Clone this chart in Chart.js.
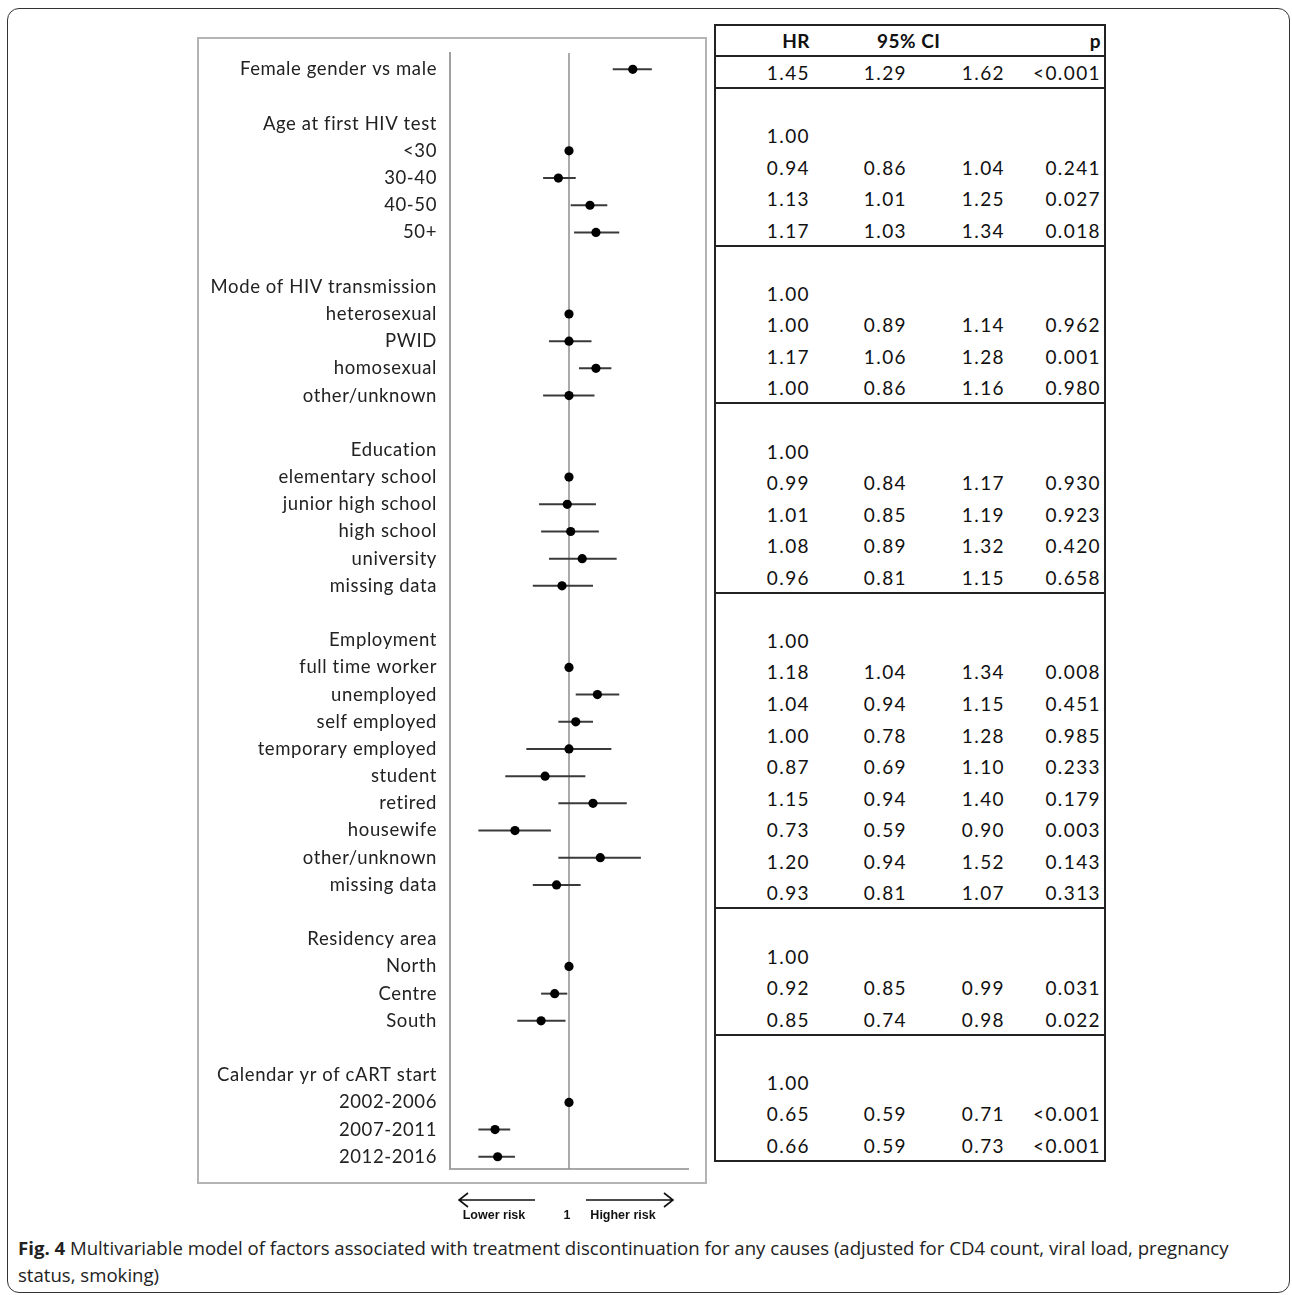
<!DOCTYPE html>
<html>
<head>
<meta charset="utf-8">
<title>Forest plot</title>
<script src="https://cdn.jsdelivr.net/npm/chart.js@4.4.1/dist/chart.umd.min.js"></script>
<style>
  html, body { margin: 0; padding: 0; background: #fff; }
  body { width: 1292px; height: 1295px; position: relative; overflow: hidden; font-family: Lato, sans-serif; color: #111; }
  #frame { position: absolute; left: 7px; top: 8px; width: 1283px; height: 1285px; border: 1.5px solid #333; border-radius: 12px; box-sizing: border-box; }
  #plotBox { position: absolute; left: 197px; top: 37px; width: 510px; height: 1147px; border: 2px solid #b4b4b4; box-sizing: border-box; }
  #chartWrap { position: absolute; left: 197px; top: 37px; width: 510px; height: 1192px; }
  #table { position: absolute; left: 714px; top: 24px; width: 392px; height: 1138px; border: 2px solid #222; box-sizing: border-box; }
  .row { position: absolute; left: 0; width: 388px; height: 31.56px; display: flex; align-items: center; font-size: 19px; letter-spacing: 1.4px; }
  .cell { text-align: right; white-space: nowrap; }
  .head { font-weight: bold; letter-spacing: 0.5px; }
  .sep { position: absolute; left: 0; width: 388px; height: 2px; background: #222; }
  #caption { position: absolute; left: 18px; top: 1234px; width: 1255px; font-family: "Open Sans", sans-serif; font-size: 18.6px; line-height: 27px; color: #222; }
  #caption b { font-weight: bold; }
</style>
</head>
<body>
<div id="frame"></div>
<div id="plotBox"></div>
<div id="chartWrap"><canvas id="forest"></canvas></div>
<div id="table"></div>
<div id="caption"><b>Fig. 4</b> Multivariable model of factors associated with treatment discontinuation for any causes (adjusted for CD4 count, viral load, pregnancy status, smoking)</div>

<script>
// plot rows, top to bottom ('' = spacer row)
const rowLabels = [
  'Female gender vs male', '',
  'Age at first HIV test', '<30', '30-40', '40-50', '50+', '',
  'Mode of HIV transmission', 'heterosexual', 'PWID', 'homosexual', 'other/unknown', '',
  'Education', 'elementary school', 'junior high school', 'high school', 'university', 'missing data', '',
  'Employment', 'full time worker', 'unemployed', 'self employed', 'temporary employed', 'student',
  'retired', 'housewife', 'other/unknown', 'missing data', '',
  'Residency area', 'North', 'Centre', 'South', '',
  'Calendar yr of cART start', '2002-2006', '2007-2011', '2012-2016'
];
const hazardRatio = [
  1.45, null,
  null, 1.00, 0.94, 1.13, 1.17, null,
  null, 1.00, 1.00, 1.17, 1.00, null,
  null, 1.00, 0.99, 1.01, 1.08, 0.96, null,
  null, 1.00, 1.18, 1.04, 1.00, 0.87, 1.15, 0.73, 1.20, 0.93, null,
  null, 1.00, 0.92, 0.85, null,
  null, 1.00, 0.65, 0.66
];
const ciLower = [
  1.29, null,
  null, null, 0.86, 1.01, 1.03, null,
  null, null, 0.89, 1.06, 0.86, null,
  null, null, 0.84, 0.85, 0.89, 0.81, null,
  null, null, 1.04, 0.94, 0.78, 0.69, 0.94, 0.59, 0.94, 0.81, null,
  null, null, 0.85, 0.74, null,
  null, null, 0.59, 0.59
];
const ciUpper = [
  1.62, null,
  null, null, 1.04, 1.25, 1.34, null,
  null, null, 1.14, 1.28, 1.16, null,
  null, null, 1.17, 1.19, 1.32, 1.15, null,
  null, null, 1.34, 1.15, 1.28, 1.10, 1.40, 0.90, 1.52, 1.07, null,
  null, null, 0.99, 0.98, null,
  null, null, 0.71, 0.73
];

// table on the right (rows under the header)
const tableHeader = ['HR', '95% CI', '', 'p'];
const tableHR = ['1.45', '', '1.00', '0.94', '1.13', '1.17', '', '1.00', '1.00', '1.17', '1.00', '',
  '1.00', '0.99', '1.01', '1.08', '0.96', '', '1.00', '1.18', '1.04', '1.00', '0.87', '1.15', '0.73',
  '1.20', '0.93', '', '1.00', '0.92', '0.85', '', '1.00', '0.65', '0.66'];
const tableLow = ['1.29', '', '', '0.86', '1.01', '1.03', '', '', '0.89', '1.06', '0.86', '',
  '', '0.84', '0.85', '0.89', '0.81', '', '', '1.04', '0.94', '0.78', '0.69', '0.94', '0.59',
  '0.94', '0.81', '', '', '0.85', '0.74', '', '', '0.59', '0.59'];
const tableHigh = ['1.62', '', '', '1.04', '1.25', '1.34', '', '', '1.14', '1.28', '1.16', '',
  '', '1.17', '1.19', '1.32', '1.15', '', '', '1.34', '1.15', '1.28', '1.10', '1.40', '0.90',
  '1.52', '1.07', '', '', '0.99', '0.98', '', '', '0.71', '0.73'];
const tableP = ['<0.001', '', '', '0.241', '0.027', '0.018', '', '', '0.962', '0.001', '0.980', '',
  '', '0.930', '0.923', '0.420', '0.658', '', '', '0.008', '0.451', '0.985', '0.233', '0.179', '0.003',
  '0.143', '0.313', '', '', '0.031', '0.022', '', '', '<0.001', '<0.001'];
const tableBreaks = [0, 1, 6, 11, 17, 27, 31];

const xMin = 0.5, xMax = 2;
const yMin = -0.6, yMax = rowLabels.length - 0.55;

// ---- table ----
(function buildTable() {
  const table = document.getElementById('table');
  const rowH = 31.56;
  const widths = [94, 97, 98, 96];
  function addRow(i, cells, isHead) {
    const row = document.createElement('div');
    row.className = 'row' + (isHead ? ' head' : '');
    row.style.top = (i * rowH - 1) + 'px';
    cells.forEach((txt, c) => {
      const cell = document.createElement('div');
      cell.className = 'cell';
      cell.style.width = widths[c] + 'px';
      cell.textContent = txt;
      if (isHead && c === 1) { cell.style.textAlign = 'left'; cell.style.paddingLeft = '67px'; cell.style.boxSizing = 'border-box'; cell.style.overflow = 'visible'; }
      row.appendChild(cell);
    });
    table.appendChild(row);
  }
  addRow(0, tableHeader, true);
  tableHR.forEach((v, k) => addRow(k + 1, [v, tableLow[k], tableHigh[k], tableP[k]], false));
  tableBreaks.forEach(k => {
    const s = document.createElement('div');
    s.className = 'sep';
    s.style.top = (29.3 + k * rowH) + 'px';
    table.appendChild(s);
  });
})();

// ---- forest plot ----
const pointData = [];
hazardRatio.forEach((v, i) => { if (v !== null) pointData.push({ x: v, y: i }); });

const ciSets = [];
ciLower.forEach((lo, i) => {
  if (lo === null) return;
  ciSets.push({
    type: 'line',
    data: [{ x: lo, y: i }, { x: ciUpper[i], y: i }],
    borderColor: '#3a3a3a',
    borderWidth: 2,
    pointRadius: 0,
    order: 1
  });
});

const textSpacing = {
  id: 'textSpacing',
  beforeDraw(chart) { chart.ctx.letterSpacing = '0.6px'; }
};

const riskArrows = {
  id: 'riskArrows',
  afterDraw(chart) {
    const ctx = chart.ctx;
    const x1 = chart.scales.x.getPixelForValue(1);
    const yA = chart.chartArea.bottom + 31;
    const yT = chart.chartArea.bottom + 47;
    ctx.save();
    ctx.letterSpacing = '0px';
    ctx.strokeStyle = '#111';
    ctx.lineWidth = 1.6;
    ctx.beginPath();
    ctx.moveTo(x1 - 34, yA); ctx.lineTo(x1 - 110, yA);
    ctx.moveTo(x1 - 101, yA - 7); ctx.lineTo(x1 - 110, yA); ctx.lineTo(x1 - 101, yA + 7);
    ctx.moveTo(x1 + 17, yA); ctx.lineTo(x1 + 104, yA);
    ctx.moveTo(x1 + 95, yA - 7); ctx.lineTo(x1 + 104, yA); ctx.lineTo(x1 + 95, yA + 7);
    ctx.stroke();
    ctx.fillStyle = '#111';
    ctx.font = 'bold 12.5px "Liberation Sans Narrow", "Liberation Sans", sans-serif';
    ctx.textBaseline = 'middle';
    ctx.textAlign = 'center';
    ctx.fillText('Lower risk', x1 - 75, yT);
    ctx.fillText('1', x1 - 2, yT);
    ctx.fillText('Higher risk', x1 + 54, yT);
    ctx.restore();
  }
};

new Chart(document.getElementById('forest'), {
  type: 'scatter',
  data: {
    datasets: [
      {
        data: pointData,
        backgroundColor: '#000',
        borderWidth: 0,
        pointRadius: 4.6,
        order: 0
      },
      ...ciSets,
      {
        type: 'line',
        data: [{ x: 1, y: yMin }, { x: 1, y: yMax }],
        borderColor: '#8f8f8f',
        borderWidth: 1.5,
        pointRadius: 0,
        order: 2
      }
    ]
  },
  options: {
    responsive: true,
    maintainAspectRatio: false,
    animation: false,
    layout: { padding: { left: 0, right: 19, top: 16, bottom: 25 } },
    plugins: { legend: { display: false }, tooltip: { enabled: false } },
    scales: {
      x: {
        type: 'logarithmic',
        min: xMin,
        max: xMax,
        grid: { display: false },
        border: { display: true, color: '#a8a8a8', width: 2 },
        ticks: { display: false },
        afterFit(scale) { scale.height = 35; }
      },
      y: {
        type: 'linear',
        reverse: true,
        min: yMin,
        max: yMax,
        grid: { display: false, drawTicks: false },
        border: { display: true, color: '#a0a0a0', width: 2 },
        afterBuildTicks(scale) { scale.ticks = rowLabels.map((_, i) => ({ value: i })); },
        afterFit(scale) { scale.width = 253; scale.paddingTop = 0; scale.paddingBottom = 0; },
        ticks: {
          autoSkip: false,
          padding: 13,
          color: '#222',
          font: { family: 'Lato', size: 18.5 },
          callback: (v) => rowLabels[v] ?? ''
        }
      }
    }
  },
  plugins: [textSpacing, riskArrows]
});
</script>
</body>
</html>
